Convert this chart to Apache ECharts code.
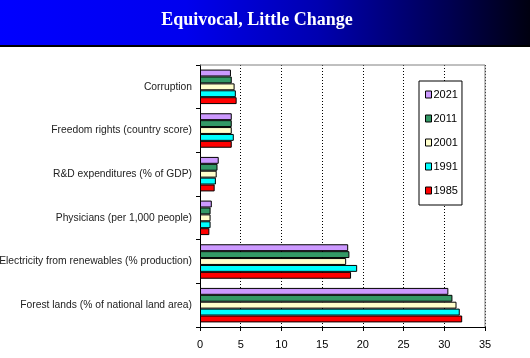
<!DOCTYPE html>
<html><head><meta charset="utf-8">
<script src="https://cdn.jsdelivr.net/npm/echarts@6/dist/echarts.min.js"></script>
<style>html,body{margin:0;padding:0;background:#fff;}#c{width:530px;height:358px;}</style>
</head><body><div id="c"></div>
<script>
const categories = ["Corruption","Freedom rights (country score)","R&D expenditures (% of GDP)","Physicians (per 1,000 people)","Electricity from renewables (% production)","Forest lands (% of national land area)"];
const years = ["2021","2011","2001","1991","1985"];
const v2021 = [3.8, 3.9, 2.3, 1.45, 18.2, 30.5];
const v2011 = [3.9, 3.9, 2.15, 1.3, 18.35, 31.0];
const v2001 = [4.25, 3.9, 2.05, 1.3, 17.95, 31.5];
const v1991 = [4.4, 4.15, 1.95, 1.3, 19.3, 31.9];
const v1985 = [4.5, 3.9, 1.8, 1.15, 18.55, 32.2];
const xTicks = [0,5,10,15,20,25,30,35];
const colors = ["#CC99FF","#339966","#FFFFCC","#00FFFF","#FF0000"];
const seriesValues = [v2021, v2011, v2001, v1991, v1985];

const chart = echarts.init(document.getElementById('c'));
const series = years.map((y,i)=>({
  name: y, type:'bar', data: seriesValues[i],
  barGap: '0%', barCategoryGap: '21%',
  itemStyle:{color: colors[i], borderColor:'#000', borderWidth:1},
  silent:true
}));
chart.setOption({
  animation:false,
  backgroundColor:'#fff',
  graphic:[
    {type:'rect', shape:{x:0,y:0,width:530,height:45}, style:{fill:{type:'linear',x:0,y:0,x2:1,y2:0,colorStops:[{offset:0,color:'#0000FF'},{offset:0.35,color:'#0000EE'},{offset:0.6,color:'#0000B0'},{offset:0.85,color:'#000050'},{offset:1,color:'#000010'}]}}, z:0},
    {type:'rect', shape:{x:0,y:45,width:530,height:2}, style:{fill:'#000'}, z:0},
    {type:'text', x:257, y:20, style:{text:'Equivocal, Little Change', fill:'#fff', font:'bold 18px "Liberation Serif"', align:'center', verticalAlign:'middle'}, z:1},
    {type:'polyline', shape:{points:[[200,65],[485,65],[485,327]]}, style:{stroke:'#808080', lineWidth:1, fill:null}, z:1}
  ],
  legend:{
    orient:'vertical', left:419, top:81, width:44, height:124,
    data: years, itemWidth:6, itemHeight:7, itemGap:13,
    padding:[8,4,9,6], borderColor:'#000', borderWidth:1, backgroundColor:'#fff',
    icon:'rect',
    textStyle:{fontFamily:'Liberation Sans', fontSize:11, color:'#000', padding:[0,0,0,-3]},
    itemStyle:{borderColor:'#000', borderWidth:1}
  },
  grid:{left:200, top:65, width:285, height:262, containLabel:false, outerBoundsMode:'none'},
  xAxis:{type:'value', min:0, max:35, interval:5,
    axisLine:{show:true, lineStyle:{color:'#000'}},
    axisTick:{show:true, length:4, lineStyle:{color:'#000'}},
    axisLabel:{fontFamily:'Liberation Sans', fontSize:11, color:'#000', margin:12, showMaxLabel:true},
    splitLine:{show:true, lineStyle:{color:'#000', type:[1,2], width:1}}
  },
  yAxis:{type:'category', data:categories, inverse:true,
    axisLine:{show:true, lineStyle:{color:'#000'}},
    axisTick:{show:true, length:4, lineStyle:{color:'#000'}},
    axisLabel:{fontFamily:'Liberation Sans', fontSize:10.3, color:'#222', margin:8}
  },
  series
});
</script></body></html>
